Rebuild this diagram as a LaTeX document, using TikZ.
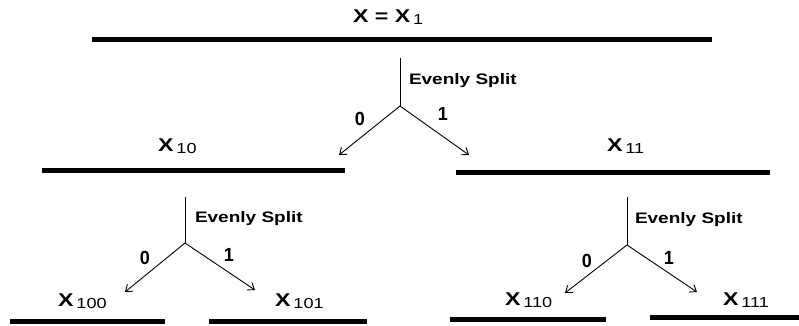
\documentclass[tikz,border=0pt]{standalone}
\usepackage{fontspec}
\setmainfont{Liberation Sans}[FakeStretch=1.25]
\newfontfamily\digitfont{Liberation Sans}[FakeStretch=0.95]
\usetikzlibrary{arrows.meta}
\newcommand{\xsub}[1]{{\fontsize{18.5}{18.5}\selectfont\bfseries X}\hspace{3pt}\raisebox{-2.5pt}{\fontsize{14.5}{14.5}\selectfont #1}}
\tikzset{
  bar/.style={line width=5pt},
  stem/.style={line width=1pt},
  arr/.style={line width=0.9pt,-{Straight Barb[length=6pt,width=9pt]}},
  lab/.style={anchor=base west,inner sep=0pt,outer sep=0pt},
  split/.style={lab,font=\fontsize{15.2}{15}\selectfont\bfseries},
  bit/.style={inner sep=0pt,font=\digitfont\fontsize{19}{19}\selectfont\bfseries}
}
\begin{document}
\begin{tikzpicture}[x=1pt,y=-1pt]
\useasboundingbox (0,0) rectangle (799,325);
% top
\node[lab] (t1) at (353,22) {{\fontsize{18.5}{18.5}\selectfont\bfseries X = X}\hspace{3pt}\raisebox{-2.5pt}{\fontsize{14.5}{14.5}\selectfont 1}};
\coordinate (b1l) at (92,39); \coordinate (b1r) at (712,39);
\draw[bar] (b1l) -- (b1r);
\coordinate (s1t) at (400,58); \coordinate (s1b) at (400,106);
\draw[stem] (s1t) -- (s1b);
\node[split] (e1) at (409,84) {Evenly Split};
\coordinate (a1l) at (339,155); \coordinate (a1r) at (469,155);
\draw[arr] (s1b) -- (a1l);
\draw[arr] (s1b) -- (a1r);
\node[bit] (z1) at (360,119) {0};
\node[bit] (o1) at (443,114) {1};
% level 2
\node[lab] (t10) at (158,151) {\xsub{10}};
\node[lab] (t11) at (607,151) {\xsub{11}};
\coordinate (b10l) at (42,170); \coordinate (b10r) at (345,170);
\coordinate (b11l) at (456,172); \coordinate (b11r) at (770,172);
\draw[bar] (b10l) -- (b10r);
\draw[bar] (b11l) -- (b11r);
% left split
\coordinate (s2t) at (185,197); \coordinate (s2b) at (185,243);
\draw[stem] (s2t) -- (s2b);
\node[split] (e2) at (195,222) {Evenly Split};
\coordinate (a2l) at (125,292); \coordinate (a2r) at (255,290);
\draw[arr] (s2b) -- (a2l);
\draw[arr] (s2b) -- (a2r);
\node[bit] (z2) at (145,258) {0};
\node[bit] (o2) at (229,255) {1};
% right split
\coordinate (s3t) at (627,197); \coordinate (s3b) at (627,245);
\draw[stem] (s3t) -- (s3b);
\node[split] (e3) at (635,223) {Evenly Split};
\coordinate (a3l) at (565,293); \coordinate (a3r) at (697,292);
\draw[arr] (s3b) -- (a3l);
\draw[arr] (s3b) -- (a3r);
\node[bit] (z3) at (587,261) {0};
\node[bit] (o3) at (669,258) {1};
% level 3
\node[lab] (t100) at (58,306) {\xsub{100}};
\node[lab] (t101) at (275,306) {\xsub{101}};
\node[lab] (t110) at (505,305) {\xsub{110}};
\node[lab] (t111) at (723,305) {\xsub{111}};
\coordinate (c1l) at (10,321); \coordinate (c1r) at (165,321);
\coordinate (c2l) at (209,321); \coordinate (c2r) at (367,321);
\coordinate (c3l) at (450,319); \coordinate (c3r) at (606,319);
\coordinate (c4l) at (650,317); \coordinate (c4r) at (799,317);
\draw[bar] (c1l) -- (c1r);
\draw[bar] (c2l) -- (c2r);
\draw[bar] (c3l) -- (c3r);
\draw[bar] (c4l) -- (c4r);
\end{tikzpicture}
\end{document}
